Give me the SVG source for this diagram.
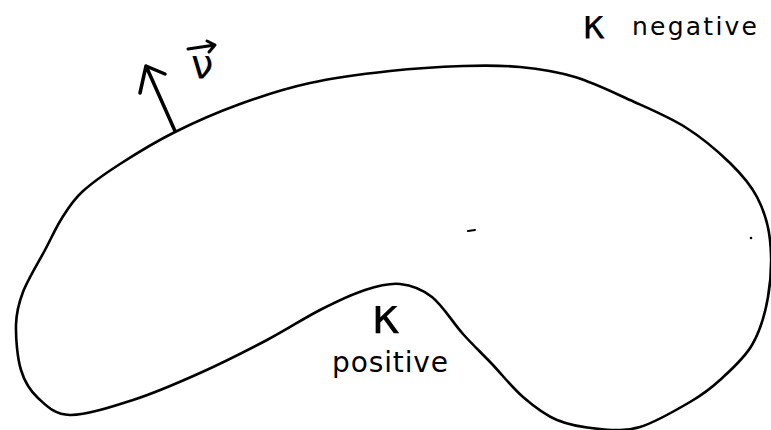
<svg xmlns="http://www.w3.org/2000/svg" width="771" height="430" viewBox="0 0 771 430">
<style>
.ink{fill:none;stroke:#000;stroke-linecap:round;stroke-linejoin:round}
.lbl{font-family:"DejaVu Sans","Liberation Sans",sans-serif;fill:#000}
</style>
<rect width="771" height="430" fill="#fff"/>
<g id="curve">
<path class="ink" stroke-width="2.6" d="M21 370 C17.3 357.8 15.7 338 16 325 S18.2 304.5 23 292 S38.5 262.3 45 250 S55.8 227.7 62 218 S72.3 201 82 192 S104.5 174 120 164 S155 142 175 132 S217.5 112.2 240 104 S285 88.5 310 83 S364.5 73.8 390 71 S441.3 66.7 463 66 S501.3 65.2 520 67 S556.7 71.5 575 77 S611.7 91.7 630 100 S668.3 116.5 685 127 S718 151.3 730 163 S750.3 184.2 757 197 S768.2 223.3 770 240 S771 279.5 768 297 S760 331.2 752 345 S730.3 370.5 720 380 S703.3 394.2 690 402 S655 422.5 640 427 S613.8 430.2 600 429 S569.8 425.3 557 420 S533.8 406.3 523 397 S502 374.5 492 364 S473 345.2 463 334 S442.5 305.3 432 297 S411.2 285.2 400 284 S378.3 285.7 365 290 S336.3 301.7 320 310 S287 329.5 267 340 S222.3 363 200 373 S154.7 393 133 400 S85.8 415.3 70 415 S46.2 405.5 38 398 S24.7 382.2 21 370 Z"/>
</g>
<g id="normal-arrow">
<path class="ink" stroke-width="3.5" d="M175 131 L146 66 M140 93 L146 66 L165 74"/>
</g>
<g id="label-nu">
<text class="lbl" x="191" y="78" font-size="40">ν</text>
<path class="ink" stroke-width="3" d="M188 49 L215 45 M207 41 L215 45 L209 52"/>
</g>
<g id="label-k-negative">
<text class="lbl" x="582" y="38" font-size="40">κ</text>
<text class="lbl" x="632" y="35" font-size="25" textLength="125" lengthAdjust="spacing">negative</text>
</g>
<g id="label-k-positive">
<text class="lbl" x="371" y="333" font-size="50">κ</text>
<text class="lbl" x="332" y="372" font-size="28" textLength="116" lengthAdjust="spacing">positive</text>
</g>
<g id="marks">
<path class="ink" stroke-width="2" d="M468 231 L475 230"/>
<circle cx="751" cy="238" r="1.3" fill="#000"/>
</g>
</svg>
